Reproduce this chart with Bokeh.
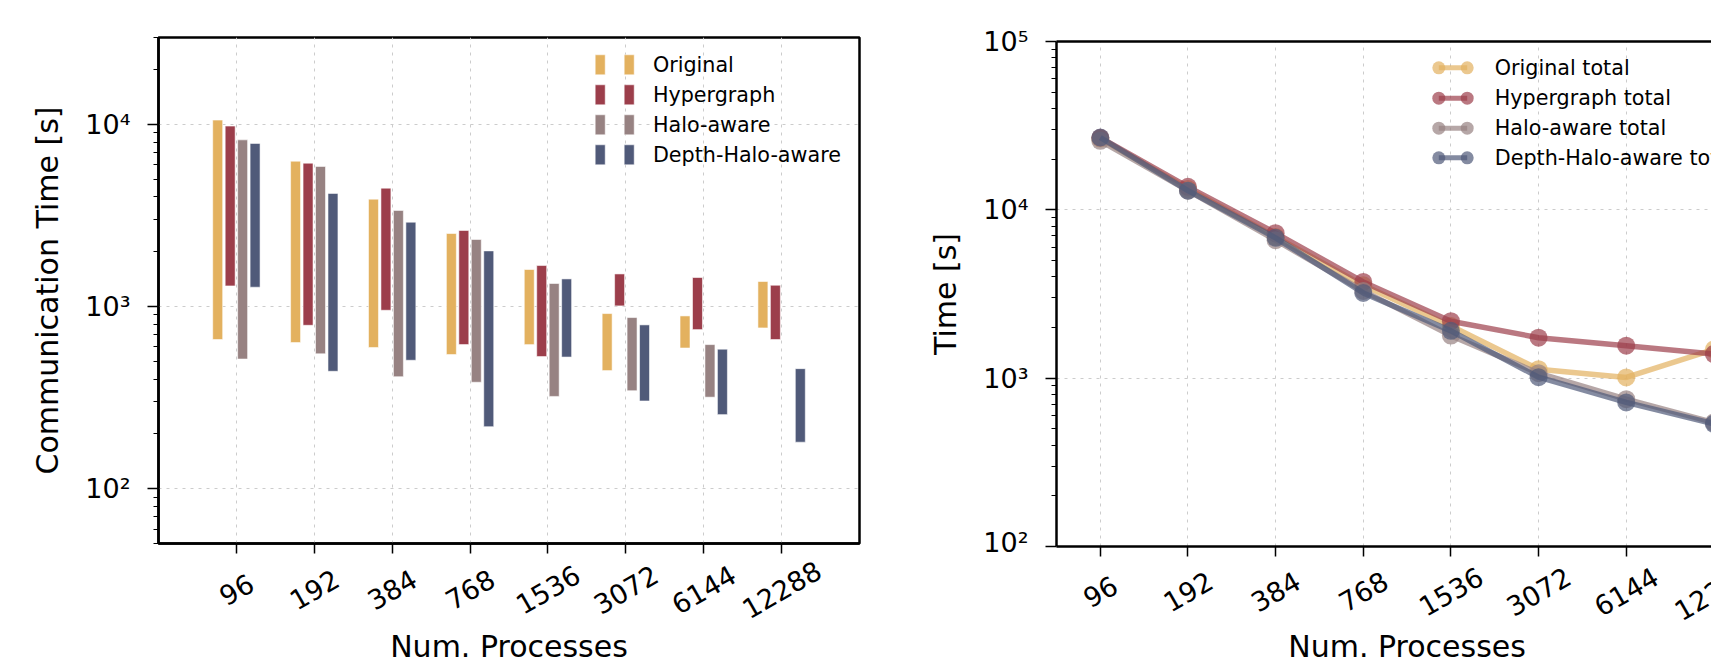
import math
from bokeh.plotting import figure
from bokeh.layouts import row, column
from bokeh.models import (ColumnDataSource, FixedTicker, LinearAxis,
                          CustomJSTickFormatter, Range1d)
from bokeh.core.properties import value
from bokeh.transform import dodge
from bokeh.embed import file_html
from bokeh.resources import INLINE

# ---------------- data ----------------
procs = ["96", "192", "384", "768", "1536", "3072", "6144", "12288"]
series = ["Original", "Hypergraph", "Halo-aware", "Depth-Halo-aware"]
colors = ["#E3B15F", "#9C3E4B", "#978282", "#505A79"]

# communication time range (min .. max) per process count
orig_lo = [659, 634, 596, 545, 618, 445, 592, 763]
orig_hi = [10560, 6282, 3888, 2518, 1597, 915, 888, 1372]
hyper_lo = [1298, 789, 954, 618, 531, 1008, 747, 659]
hyper_hi = [9790, 6125, 4467, 2616, 1679, 1510, 1443, 1309]
halo_lo = [515, 550, 412, 384, 321, 345, 318, None]
halo_hi = [8224, 5877, 3370, 2333, 1338, 870, 618, None]
depth_lo = [1277, 441, 507, 219, 528, 303, 255, 180]
depth_hi = [7863, 4179, 2905, 2021, 1418, 793, 583, 456]

# total time per process count
orig_total = [26500, 13300, 6900, 3560, 2040, 1130, 1010, 1480]
hyper_total = [26800, 13700, 7270, 3730, 2180, 1740, 1560, 1390]
halo_total = [25700, 13000, 6600, 3300, 1790, 1070, 750, 545]
depth_total = [26900, 13000, 6820, 3210, 1910, 1013, 718, 535]

ranges_lo = [orig_lo, hyper_lo, halo_lo, depth_lo]
ranges_hi = [orig_hi, hyper_hi, halo_hi, depth_hi]
totals = [orig_total, hyper_total, halo_total, depth_total]
total_labels = [s + " total" for s in series]
xlabel = "Num. Processes"

# ---------------- styling / layout ----------------
FONT = "DejaVu Sans"
PAGE_H = 666
TICK_FS = "27px"
AX_FS = "30px"
LEG_FS = "20.7px"
GRID_COLOR = "#cccccc"
idx = list(range(len(procs)))
SUP = {"0": "\u2070", "1": "\u00b9", "2": "\u00b2", "3": "\u00b3", "4": "\u2074",
       "5": "\u2075", "6": "\u2076", "7": "\u2077", "8": "\u2078", "9": "\u2079"}
sup_js = "{" + ",".join('"%s":"%s"' % (k, v) for k, v in SUP.items()) + "}"


def log_formatter():
    return CustomJSTickFormatter(code="""
const sup = %s;
const e = Math.round(Math.log10(tick));
let s = "";
for (const ch of String(e)) { s += (sup[ch] || ch); }
return "10" + s;
""" % sup_js)


def minor_log(lo, hi):
    return [m * 10 ** k for k in range(0, 7) for m in range(2, 10) if lo <= m * 10 ** k <= hi]


def major_log(lo, hi):
    return [10 ** k for k in range(0, 8) if lo <= 10 ** k <= hi]


def frame_x(px, xr, fw):
    return xr[0] + px / fw * (xr[1] - xr[0])


def frame_ylog(py, yr, fh):
    l0, l1 = math.log10(yr[0]), math.log10(yr[1])
    return 10 ** (l1 - py / fh * (l1 - l0))


BB_MAIN = 11  # room below the frame for the tick marks


def make_fig(width, height, x_range, yr, bl, br, bt, ylabel):
    p = figure(width=width, height=height, x_range=x_range, y_range=Range1d(*yr),
               y_axis_type="log", output_backend="svg", toolbar_location=None,
               min_border_left=bl, min_border_right=br, min_border_top=bt,
               min_border_bottom=BB_MAIN)
    p.background_fill_color = "white"
    p.border_fill_color = "white"
    xa = p.xaxis[0]
    xa.ticker = FixedTicker(ticks=idx)
    xa.formatter = CustomJSTickFormatter(code="return '';")
    xa.major_label_text_font_size = "0px"
    xa.major_label_standoff = 0
    xa.major_tick_out = 10
    xa.major_tick_in = 0
    xa.major_tick_line_width = 1.5
    xa.minor_tick_line_color = None
    xa.axis_line_width = 2.5
    xa.axis_line_color = "black"
    ya = p.yaxis[0]
    ya.ticker = FixedTicker(ticks=major_log(*yr), minor_ticks=minor_log(*yr))
    ya.formatter = log_formatter()
    ya.major_label_text_font = FONT
    ya.major_label_text_font_size = TICK_FS
    ya.major_label_text_color = "black"
    ya.major_label_standoff = 17
    ya.major_tick_out = 11
    ya.major_tick_in = 0
    ya.major_tick_line_width = 1.5
    ya.minor_tick_out = 5
    ya.minor_tick_in = 0
    ya.minor_tick_line_width = 1
    ya.axis_line_width = 2.5
    ya.axis_line_color = "black"
    ya.axis_label = ylabel
    ya.axis_label_text_font = FONT
    ya.axis_label_text_font_size = AX_FS
    ya.axis_label_text_font_style = "normal"
    ya.axis_label_text_color = "black"
    ya.axis_label_standoff = 17
    p.xgrid.ticker = FixedTicker(ticks=idx)
    for g in (p.xgrid[0], p.ygrid[0]):
        g.grid_line_color = GRID_COLOR
        g.grid_line_dash = "3 5"
        g.grid_line_width = 1
    return p


def make_label_fig(width, top, x_range, bl, br, tick_center, title_center, title_x):
    """Strip under a plot holding the rotated tick labels and the x-axis title.
    tick_center / title_center are page rows; the strip spans page rows top..PAGE_H."""
    height = PAGE_H - top
    q = figure(width=width, height=height, x_range=x_range,
               y_range=Range1d(PAGE_H, top),
               output_backend="svg", toolbar_location=None,
               x_axis_location=None, y_axis_location=None,
               min_border_left=bl, min_border_right=br, min_border_top=0,
               min_border_bottom=0)
    q.grid.visible = False
    q.outline_line_color = None
    q.background_fill_color = "white"
    q.border_fill_color = "white"
    src = ColumnDataSource(dict(x=idx, y=[tick_center] * len(idx), t=procs))
    q.text(x="x", y="y", text="t", source=src, angle=math.pi / 6,
           text_align="center", text_baseline="middle", text_font=value(FONT),
           text_font_size=TICK_FS, text_color="black")
    q.text(x=[title_x], y=[title_center], text=[xlabel], text_align="center",
           text_baseline="middle", text_font=value(FONT), text_font_size=AX_FS,
           text_color="black")
    return q


# ---------------- left: communication time ranges ----------------
XR1 = Range1d(-1, 8)
YR1 = (50, 30000)
W1, BL1, BR1, BT1 = 880, 158, 21, 37
FH1 = 506
H1 = BT1 + FH1 + BB_MAIN
FW1 = W1 - BL1 - BR1
p1 = make_fig(W1, H1, XR1, YR1, BL1, BR1, BT1, "Communication Time [s]")
p1.outline_line_color = "black"
p1.outline_line_width = 2.5

offsets = [-0.24, -0.08, 0.08, 0.24]
for lo, hi, c, off in zip(ranges_lo, ranges_hi, colors, offsets):
    xs = [i for i in idx if lo[i] is not None]
    src = ColumnDataSource(dict(x=xs, lo=[lo[i] for i in xs], hi=[hi[i] for i in xs]))
    p1.vbar(x=dodge("x", off, range=p1.x_range), bottom="lo", top="hi", width=0.128,
            source=src, fill_color=c, line_color="white", line_alpha=0.55, line_width=1)

xr1 = (XR1.start, XR1.end)
leg_rows = [27.3, 57.3, 87.3, 117.3]
for k, (s, c) in enumerate(zip(series, colors)):
    yv = frame_ylog(leg_rows[k], YR1, FH1)
    for sx in (441.7, 470.7):
        p1.rect(x=[frame_x(sx, xr1, FW1)], y=[yv], width=10, height=20,
                width_units="screen", height_units="screen",
                fill_color=c, line_color="white", line_alpha=0.5)
    p1.text(x=[frame_x(494.4, xr1, FW1)], y=[yv], text=[s], text_font=value(FONT),
            text_font_size=LEG_FS, text_baseline="middle", text_align="left",
            text_color="black")

q1 = make_label_fig(W1, H1, XR1, BL1, BR1, tick_center=589, title_center=646,
                    title_x=(XR1.start + XR1.end) / 2)

# ---------------- right: total time ----------------
W2, BL2, BR2, BT2 = 831, 176, 0, 41
FH2 = 505
H2 = BT2 + FH2 + BB_MAIN
FW2 = W2 - BL2 - BR2
PX_PER_CAT = 87.65
XR2 = Range1d(-0.5, -0.5 + FW2 / PX_PER_CAT)
YR2 = (100, 100000)
p2 = make_fig(W2, H2, XR2, YR2, BL2, BR2, BT2, "Time [s]")
p2.outline_line_color = None
top_axis = LinearAxis(ticker=FixedTicker(ticks=[]), axis_line_width=2.5,
                      axis_line_color="black", major_label_text_font_size="0px",
                      major_tick_line_color=None, minor_tick_line_color=None,
                      formatter=CustomJSTickFormatter(code="return '';"))
p2.add_layout(top_axis, "above")

for tot, c in zip(totals, colors):
    src = ColumnDataSource(dict(x=idx, y=tot))
    p2.line("x", "y", source=src, line_color=c, line_width=5.5, line_alpha=0.7)
    p2.scatter("x", "y", source=src, size=18, fill_color=c, fill_alpha=0.7,
               line_color=None)

xr2 = (XR2.start, XR2.end)
leg2_rows = [26.3, 56.7, 86.7, 116.3]
for k, (s, c) in enumerate(zip(total_labels, colors)):
    yv = frame_ylog(leg2_rows[k], YR2, FH2)
    xa_ = frame_x(382.3, xr2, FW2)
    xb_ = frame_x(410.7, xr2, FW2)
    p2.line(x=[xa_, xb_], y=[yv, yv], line_color=c, line_width=5, line_alpha=0.7)
    p2.scatter(x=[xa_, xb_], y=[yv, yv], size=13, fill_color=c, fill_alpha=0.7,
               line_color=None)
    p2.text(x=[frame_x(438.3, xr2, FW2)], y=[yv], text=[s], text_font=value(FONT),
            text_font_size=LEG_FS, text_baseline="middle", text_align="left",
            text_color="black")

# the full category span of this panel is -0.5 .. 7.5; its title sits at its middle
q2 = make_label_fig(W2, H2, XR2, BL2, BR2, tick_center=591, title_center=646,
                    title_x=(len(procs) - 1) / 2)

layout = row(column(p1, q1), column(p2, q2))
open("out.html", "w").write(file_html(layout, INLINE))
